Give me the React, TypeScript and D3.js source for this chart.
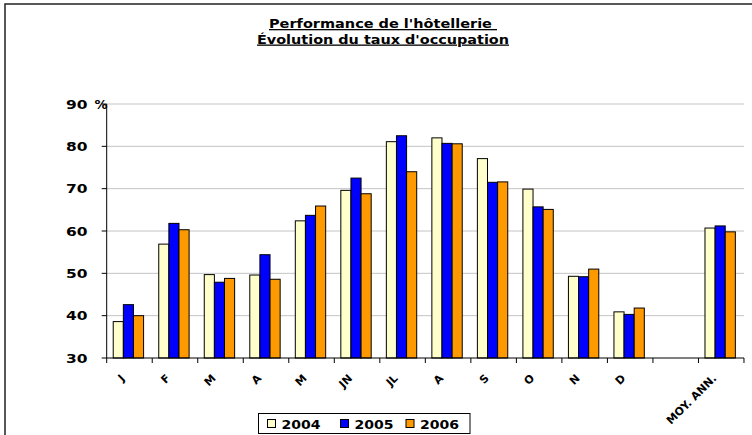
import React from "react";
import * as d3 from "d3";

const categories = ["J", "F", "M", "A", "M", "JN", "JL", "A", "S", "O", "N", "D", "", "MOY. ANN."];
const years = ["2004", "2005", "2006"];
const values2004 = [38.6, 56.9, 49.7, 49.6, 62.4, 69.6, 81.1, 82.0, 77.1, 69.9, 49.3, 40.9, null, 60.7];
const values2005 = [42.6, 61.8, 47.9, 54.4, 63.7, 72.5, 82.5, 80.7, 71.5, 65.7, 49.2, 40.3, null, 61.2];
const values2006 = [40.0, 60.3, 48.8, 48.6, 65.9, 68.8, 74.0, 80.6, 71.6, 65.1, 51.0, 41.8, null, 59.8];
const yTicks = [30, 40, 50, 60, 70, 80, 90];
const colors = ["#FFFFCC", "#0000FF", "#FF9900"];
const titleLines = ["Performance de l'hôtellerie\u00a0", "Évolution du taux d'occupation"];

const FONT = "'DejaVu Sans', Verdana, sans-serif";

export default function App() {
  const W = 752, H = 435;
  const left = 106.7, right = 744, top = 104, bottom = 358;
  const series = [values2004, values2005, values2006];

  const x0 = d3.scaleBand<number>()
    .domain(d3.range(categories.length))
    .range([left, right])
    .paddingInner(0.333)
    .paddingOuter(0.1667)
    .align(0.43);
  const x1 = d3.scaleBand<string>().domain(years).range([0, x0.bandwidth()]);
  const y = d3.scaleLinear().domain([30, 90]).range([bottom, top]);
  const step = x0.step();
  const boundaries = d3.range(categories.length + 1).map((i) => left + i * step);
  const titleWidths = [228, 252];

  return (
    <svg width={W} height={H} style={{ position: "absolute", left: 0, top: 0, background: "#fff" }} fontFamily={FONT}>
      <rect x={5} y={4} width={900} height={600} fill="#fff" stroke="#222" strokeWidth={1.5} />
      {titleLines.map((t, i) => (
        <text
          key={i}
          x={383}
          y={28 + i * 15.5}
          textAnchor="middle"
          fontSize={13}
          fontWeight="bold"
          textDecoration="underline"
          fill="#000"
          textLength={titleWidths[i]}
          lengthAdjust="spacingAndGlyphs"
        >
          {t}
        </text>
      ))}
      {yTicks.slice(1).map((t) => (
        <line key={t} x1={left} x2={right} y1={y(t)} y2={y(t)} stroke="#c4c4c4" strokeWidth={1} />
      ))}
      {series.map((vals, si) =>
        vals.map((v, ci) =>
          v == null ? null : (
            <rect
              key={si + "-" + ci}
              x={(x0(ci) as number) + (x1(years[si]) as number)}
              y={y(v)}
              width={x1.bandwidth()}
              height={bottom - y(v)}
              fill={colors[si]}
              stroke="#000"
              strokeWidth={1}
            />
          )
        )
      )}
      <line x1={left} x2={left} y1={top} y2={bottom} stroke="#000" strokeWidth={1} />
      <line x1={left} x2={right} y1={bottom} y2={bottom} stroke="#000" strokeWidth={1} />
      {yTicks.map((t) => (
        <g key={t}>
          <line x1={left - 5} x2={left} y1={y(t)} y2={y(t)} stroke="#000" />
          <text x={87.5} y={y(t) + 4.5} textAnchor="end" fontSize={13} fontWeight="bold" fill="#000" textLength={21.5} lengthAdjust="spacingAndGlyphs">
            {t}
          </text>
        </g>
      ))}
      <text x={94.5} y={y(90) + 4.5} fontSize={13} fontWeight="bold" fill="#000">%</text>
      {boundaries.map((b, i) => (
        <line key={i} x1={b} x2={b} y1={bottom} y2={bottom + 5} stroke="#000" />
      ))}
      {categories.map((c, i) => (
        <text
          key={i}
          transform={`translate(${(x0(i) as number) + x0.bandwidth() / 2 - 3},${379}) rotate(-45)`}
          textAnchor="end"
          fontSize={11}
          fontWeight="bold"
          fill="#000"
        >
          {c}
        </text>
      ))}
      <g>
        <rect x={258.5} y={413.5} width={211.5} height={20} fill="#fff" stroke="#000" strokeWidth={1} />
        {years.map((yr, i) => {
          const sx = [267.5, 340.5, 406][i];
          return (
            <g key={yr}>
              <rect x={sx} y={419.5} width={8} height={8} fill={colors[i]} stroke="#000" strokeWidth={1} />
              <text x={sx + 14} y={428.5} fontSize={13} fontWeight="bold" fill="#000" textLength={39} lengthAdjust="spacingAndGlyphs">{yr}</text>
            </g>
          );
        })}
      </g>
    </svg>
  );
}
